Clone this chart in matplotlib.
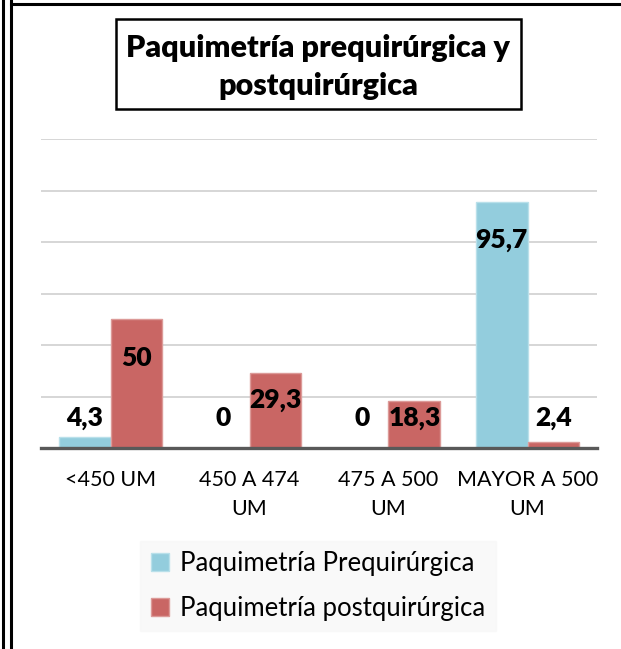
import matplotlib.pyplot as plt
from matplotlib.patches import Rectangle
from matplotlib.lines import Line2D
import numpy as np

categorias = ['<450 UM', '450 A 474\nUM', '475 A 500\nUM', 'MAYOR A 500\nUM']
prequirurgica = [4.3, 0, 0, 95.7]
postquirurgica = [50, 29.3, 18.3, 2.4]
etiquetas_pre = ['4,3', '0', '0', '95,7']
etiquetas_post = ['50', '29,3', '18,3', '2,4']

plt.rcParams['font.family'] = ['Lato', 'DejaVu Sans']

W, H = 621, 649
fig = plt.figure(figsize=(W / 100, H / 100), dpi=100)

# area del grafico (pixeles medidos en la imagen)
ax = fig.add_axes([41 / W, 1 - 448 / H, (597 - 41) / W, (448 - 139) / H])

x = np.arange(len(categorias))
ancho = 0.374
azul = '#93CDDD'
rojo = '#C96664'

ax.bar(x - ancho / 2, prequirurgica, ancho, color=azul, edgecolor='#b9e0ea',
       linewidth=1, label='Paquimetría Prequirúrgica', zorder=3)
ax.bar(x + ancho / 2, postquirurgica, ancho, color=rojo, edgecolor='#dc9a98',
       linewidth=1, label='Paquimetría postquirúrgica', zorder=3)

def pos_etiqueta(v):
    return max(v - min(15, 0.37 * v), 11.5)

for i in range(len(categorias)):
    ax.text(x[i] - ancho / 2, pos_etiqueta(prequirurgica[i]), etiquetas_pre[i],
            ha='center', va='center', fontsize=19, fontweight='heavy', zorder=4)
    ax.text(x[i] + ancho / 2, pos_etiqueta(postquirurgica[i]), etiquetas_post[i],
            ha='center', va='center', fontsize=19, fontweight='heavy', zorder=4)

ax.set_xlim(-0.5, 3.5)
ax.set_ylim(0, 120)
ax.set_yticks(np.arange(0, 121, 20))
ax.yaxis.grid(True, color='#cfcfcf', linewidth=1.2, zorder=0)
ax.set_yticklabels([])
ax.tick_params(axis='y', length=0)
ax.tick_params(axis='x', length=0, pad=16)
ax.set_xticks(x)
ax.set_xticklabels(categorias, fontsize=15.5, linespacing=1.55, va='top')
for s in ['top', 'right', 'left']:
    ax.spines[s].set_visible(False)
ax.spines['bottom'].set_color('#595959')
ax.spines['bottom'].set_linewidth(2.4)
ax.spines['bottom'].set_zorder(5)

# leyenda
leg = fig.legend(loc='center', bbox_to_anchor=(318 / W, 1 - 586 / H),
                 ncol=1, fontsize=18.5, frameon=True, fancybox=False,
                 handlelength=0.7, handleheight=0.7, handletextpad=0.45,
                 labelspacing=0.75, borderpad=0.4, borderaxespad=0)
leg.get_frame().set_facecolor('#f8f8f8')
leg.get_frame().set_edgecolor('#f8f8f8')

# titulo en recuadro
fig.patches.append(Rectangle((116 / W, 1 - 109 / H), (521 - 116) / W, 90 / H,
                             transform=fig.transFigure, fill=False,
                             edgecolor='black', linewidth=1.8))
fig.text(318 / W, 1 - 67 / H, 'Paquimetría prequirúrgica y\npostquirúrgica',
         ha='center', va='center', fontsize=22, fontweight='heavy',
         linespacing=1.4)

# bordes del marco
for xp in [2.5 / W, 11 / W]:
    fig.lines.append(Line2D([xp, xp], [0, 1], transform=fig.transFigure,
                            color='black', linewidth=2.2))
fig.lines.append(Line2D([11 / W, 1], [1 - 4 / H, 1 - 4 / H],
                        transform=fig.transFigure, color='black', linewidth=2.2))

fig.savefig('out.png', dpi=100)
